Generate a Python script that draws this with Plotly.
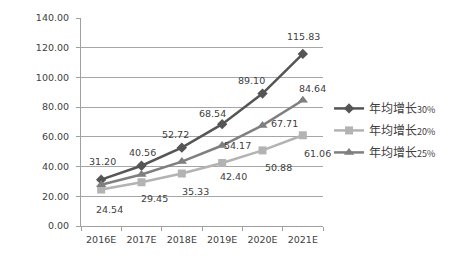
import plotly.graph_objects as go

categories = ["2016E", "2017E", "2018E", "2019E", "2020E", "2021E"]
growth_30 = [31.20, 40.56, 52.72, 68.54, 89.10, 115.83]
growth_20 = [24.54, 29.45, 35.33, 42.40, 50.88, 61.06]
growth_25 = [27.73, 34.67, 43.33, 54.17, 67.71, 84.64]
series_names = ["年均增长30%", "年均增长20%", "年均增长25%"]
y_ticks = [0, 20, 40, 60, 80, 100, 120, 140]

# label offsets in pixels (style only)
off_30 = [(1, 18), (1, 13), (-6, 13), (-10, 11), (-11, 13), (1, 17)]
off_20 = [(8, -20), (13, -16), (14, -18), (11, -13), (16, -17), (15, -18)]
off_25 = [None, None, None, (15, 0), (22, 2), (10, 12)]

FONT = "DejaVu Sans"

def legend_name(n):
    return n[:4] + "<span style='font-size:9px'>" + n[4:] + "</span>"

fig = go.Figure()
styles = [
    (growth_30, "#555555", "diamond", 8),
    (growth_20, "#b3b3b3", "square", 8),
    (growth_25, "#7f7f7f", "triangle-up", 9),
]
for i, ((vals, col, sym, ms), name) in enumerate(zip(styles, series_names)):
    fig.add_trace(go.Scatter(
        x=categories, y=vals, mode="lines+markers", name=legend_name(name),
        legendgroup=f"g{i}",
        line=dict(color=col, width=2.5),
        marker=dict(symbol=sym, size=ms, color=col),
    ))

for vals, offs in [(growth_30, off_30), (growth_20, off_20), (growth_25, off_25)]:
    for c, v, o in zip(categories, vals, offs):
        if o is None:
            continue
        fig.add_annotation(x=c, y=v, xref="x", yref="y", text=f"{v:.2f}",
                           showarrow=False, xshift=o[0], yshift=o[1],
                           font=dict(family=FONT, size=9.5, color="#404040"))

fig.update_layout(
    width=462, height=261,
    margin=dict(l=81, r=139, t=18, b=35),
    paper_bgcolor="white", plot_bgcolor="white",
    font=dict(family=FONT, size=9.5, color="#404040"),
    showlegend=True,
    legend=dict(x=1.025, y=0.635, xanchor="left", yanchor="top",
                font=dict(family="Noto Sans CJK SC", size=12, color="#404040"),
                bgcolor="rgba(0,0,0,0)", itemwidth=30, tracegroupgap=3),
)
fig.update_xaxes(
    type="category", range=[-0.5, 5.5], showline=True, linecolor="#a0a0a0",
    linewidth=1, ticks="outside", tickson="boundaries", ticklen=4,
    tickcolor="#a0a0a0", showgrid=False, ticklabelstandoff=5,
    tickfont=dict(size=9.5, color="#404040"),
)
fig.update_yaxes(
    range=[0, 140], tickvals=y_ticks, tickformat=".2f", showline=True,
    linecolor="#a0a0a0", linewidth=1, ticks="outside", ticklen=4,
    tickcolor="#a0a0a0", showgrid=True, gridcolor="#a6a6a6", gridwidth=1,
    zeroline=False, ticklabelstandoff=5,
    tickfont=dict(size=9.5, color="#404040"),
)

fig.write_html("out.html")
